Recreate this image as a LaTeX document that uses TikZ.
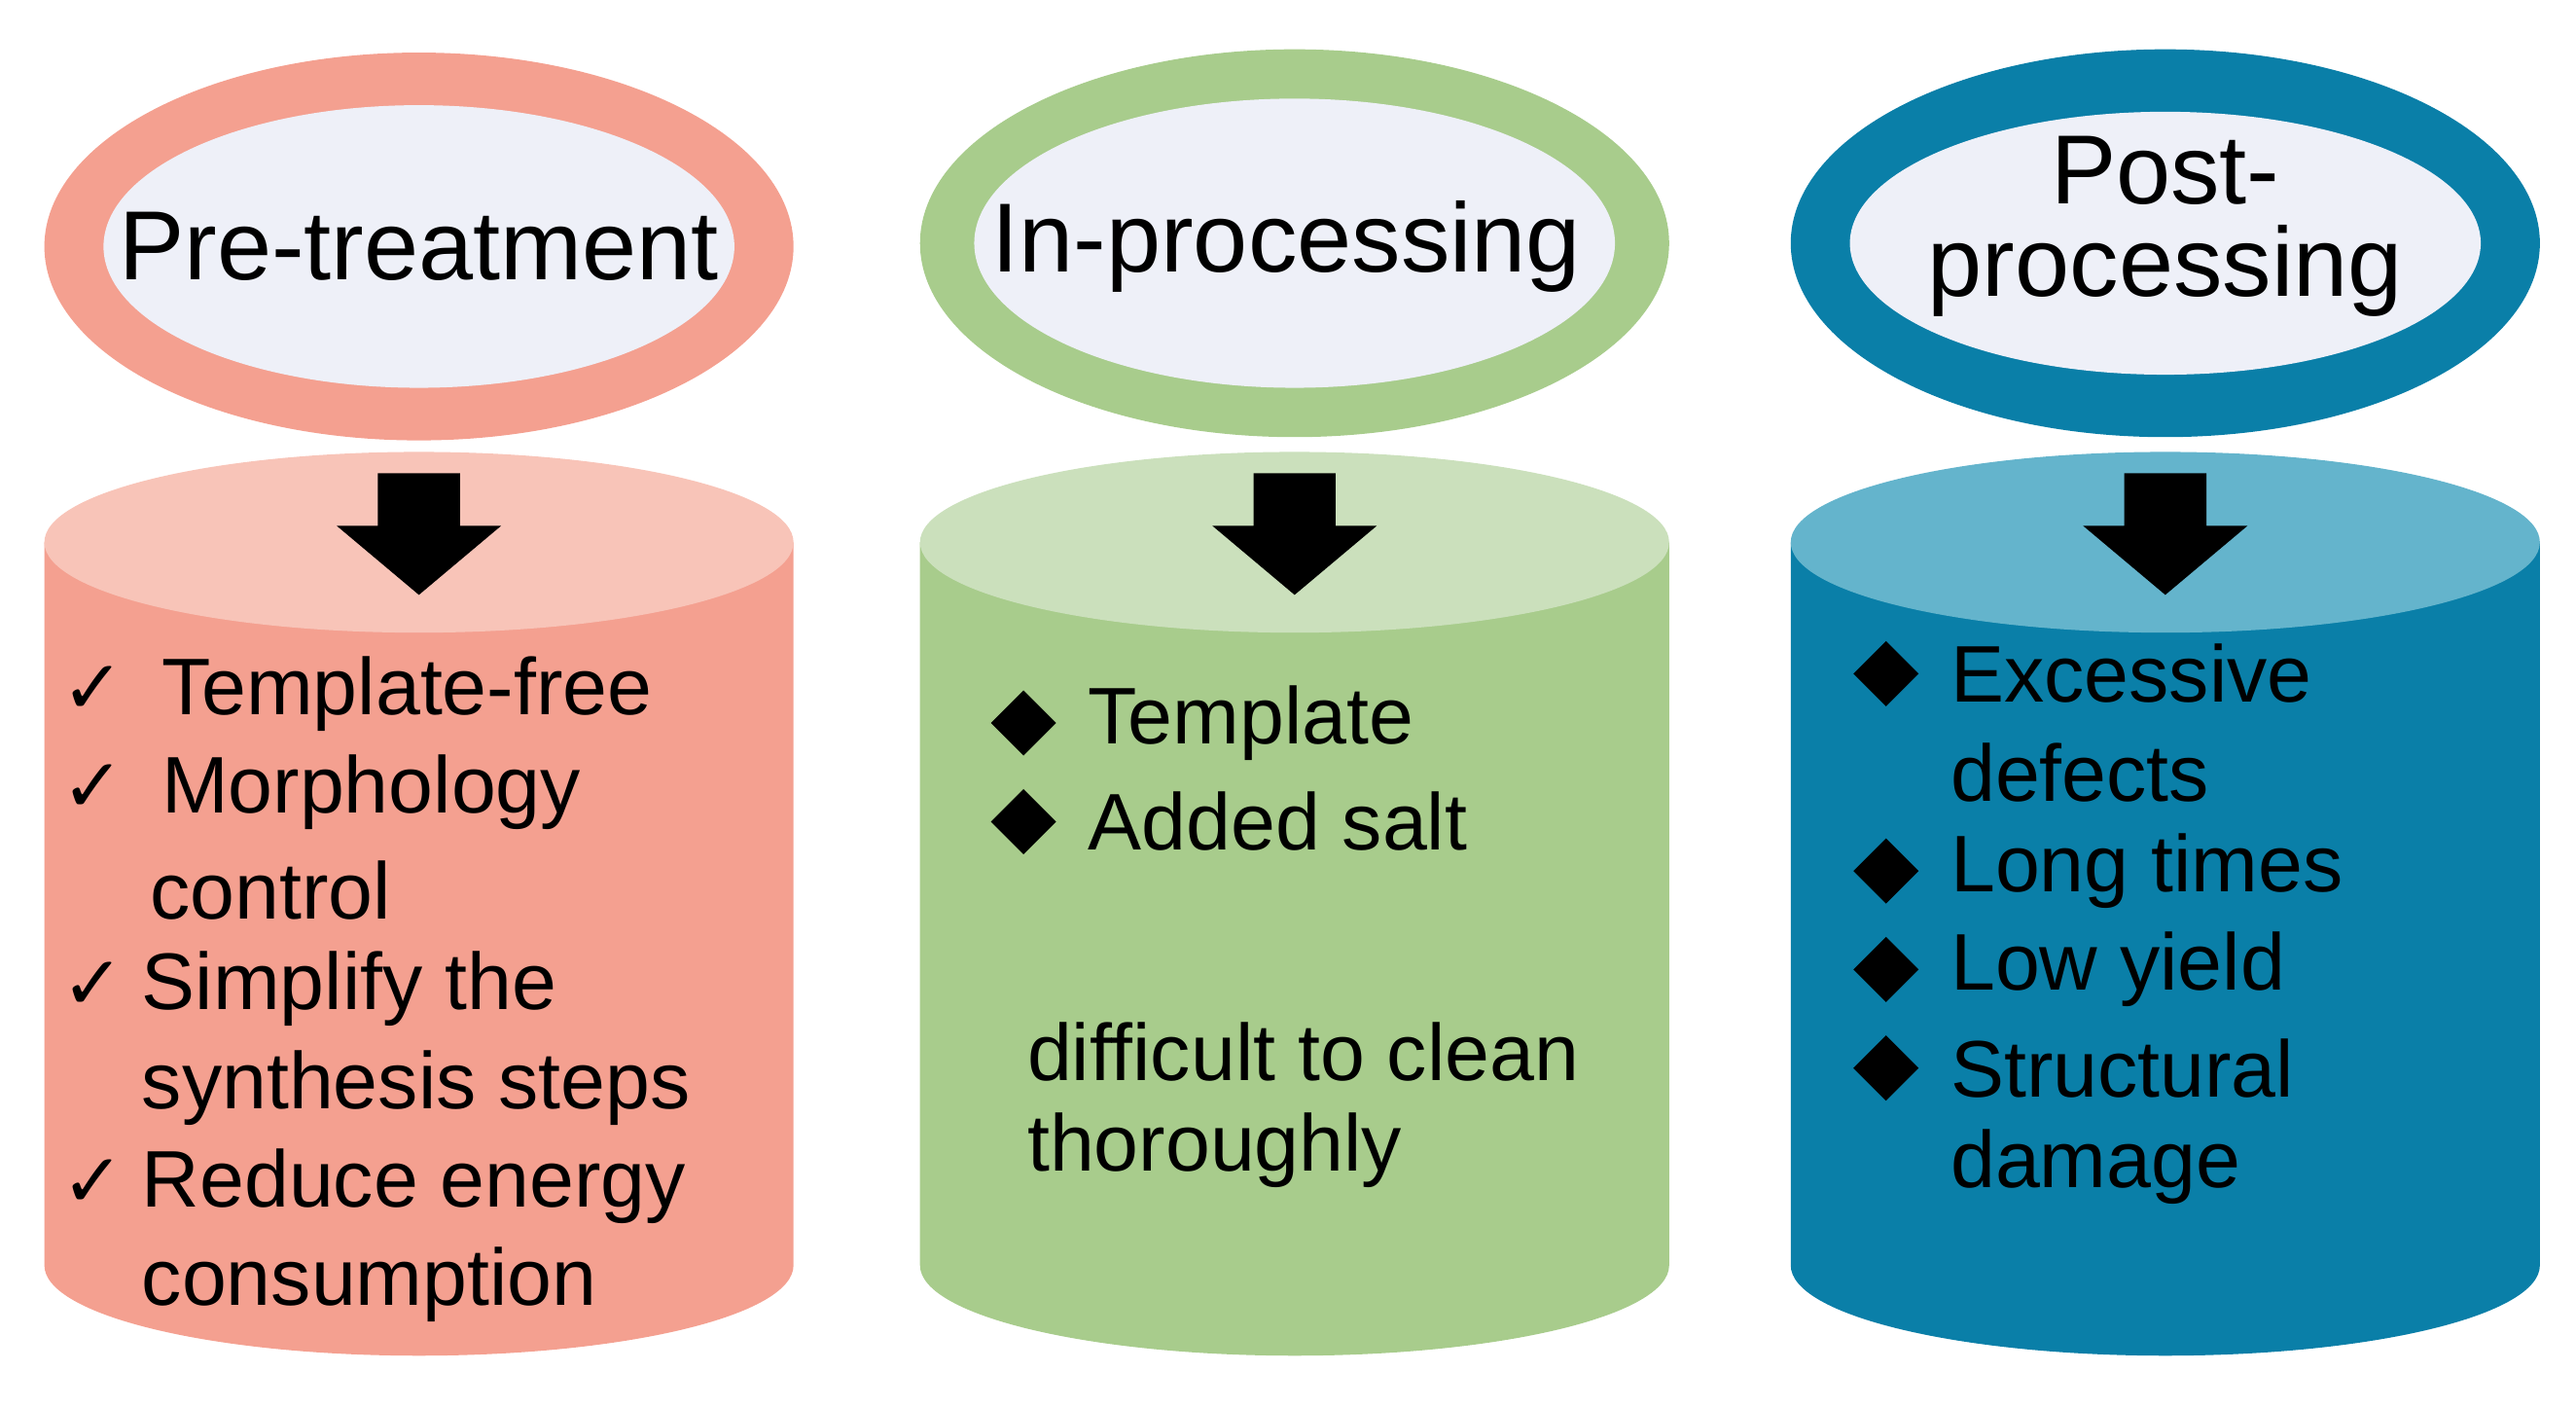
\documentclass[tikz,border=0pt]{standalone}
\usepackage{fontspec}
\setmainfont{Liberation Sans}
\newfontfamily\djv{DejaVu Sans}
\usetikzlibrary{shapes.geometric}
\definecolor{salm}{HTML}{F4A090}
\definecolor{salmL}{HTML}{F8C4B8}
\definecolor{grn}{HTML}{A8CC8C}
\definecolor{grnL}{HTML}{CBE0BC}
\definecolor{teal}{HTML}{0A7FA8}
\definecolor{tealL}{HTML}{64B4CC}
\definecolor{inner}{HTML}{EEF0F8}
\begin{document}
\begin{tikzpicture}[x=0.02cm,y=-0.02cm,
  txt/.style={anchor=west,font=\fontsize{27.8}{30}\selectfont,inner sep=0},
  ttl/.style={font=\fontsize{34}{36}\selectfont,align=center,inner sep=0},
  dia/.style={diamond,fill=black,minimum size=0.8cm,inner sep=0},
  chk/.style={anchor=center,font=\djv\bfseries\fontsize{26}{26}\selectfont,inner sep=0}]
\useasboundingbox (0,0) rectangle (1568,856);
% cylinders
\foreach \cx/\b/\t in {255/salm/salmL,788/grn/grnL,1318/teal/tealL}{
  \fill[\b] (\cx-228,330) -- (\cx-228,770) arc[start angle=180,end angle=360,x radius=228,y radius=-55] -- (\cx+228,330) -- cycle;
  \fill[\t] (\cx,330) ellipse[x radius=228,y radius=55];
  \fill[black] (\cx-25,288) -- (\cx+25,288) -- (\cx+25,320) -- (\cx+50,320) -- (\cx,362) -- (\cx-50,320) -- (\cx-25,320) -- cycle;
}
% ellipses
\fill[salm] (255,150) ellipse[x radius=228,y radius=118];
\fill[inner] (255,150) ellipse[x radius=192,y radius=86];
\fill[grn] (788,148) ellipse[x radius=228,y radius=118];
\fill[inner] (788,148) ellipse[x radius=195,y radius=88];
\fill[teal] (1318,148) ellipse[x radius=228,y radius=118];
\fill[inner] (1318,148) ellipse[x radius=192,y radius=80];
\node[ttl] (t1) at (255,150) {Pre-treatment};
\node[ttl] (t2) at (783,150) {In-processing};
\node[ttl] (t3) at (1318,138) {Post-\\[-4pt]processing};
% column 1
\node[chk] (c1) at (57,420) {✓};
\node[txt] (a1) at (98,422) {Template-free};
\node[chk] (c2) at (57,480) {✓};
\node[txt] (a2) at (98,482) {Morphology};
\node[txt] (a3) at (91,542) {control};
\node[chk] (c3) at (57,600) {✓};
\node[txt] (a4) at (86,602) {Simplify the};
\node[txt] (a5) at (86,662) {synthesis steps};
\node[chk] (c4) at (57,720) {✓};
\node[txt] (a6) at (86,722) {Reduce energy};
\node[txt] (a7) at (86,782) {consumption};
% column 2
\node[dia] (d1) at (623,440) {};
\node[txt] (b1) at (662,440) {Template};
\node[dia] (d2) at (623,500) {};
\node[txt] (b2) at (662,500) {Added salt};
\node[txt] (b3) at (625,640) {difficult to clean};
\node[txt] (b4) at (625,700) {thoroughly};
% column 3
\node[dia] (e1) at (1148,410) {};
\node[txt] (f1) at (1187,410) {Excessive};
\node[txt] (f2) at (1187,470) {defects};
\node[dia] (e2) at (1148,530) {};
\node[txt] (f3) at (1187,530) {Long times};
\node[dia] (e3) at (1148,590) {};
\node[txt] (f4) at (1187,590) {Low yield};
\node[dia] (e4) at (1148,650) {};
\node[txt] (f5) at (1187,650) {Structural};
\node[txt] (f6) at (1187,710) {damage};
\end{tikzpicture}
\end{document}
